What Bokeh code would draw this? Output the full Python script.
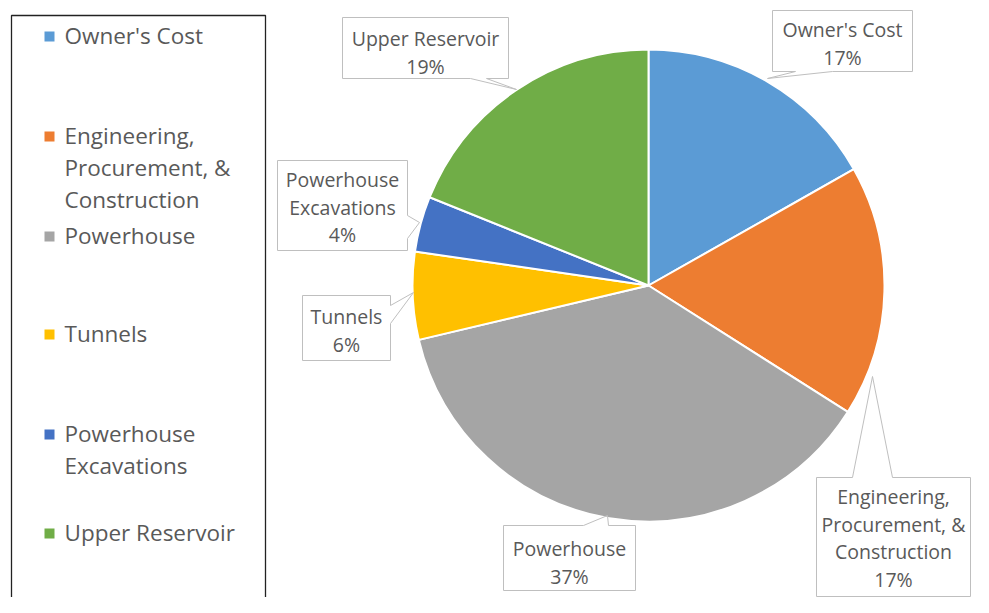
import math
from bokeh.plotting import figure
from bokeh.models import Range1d
from bokeh.core.properties import value
from bokeh.embed import file_html
from bokeh.resources import INLINE

# ---- data ----
categories = ["Owner's Cost", "Engineering, Procurement, & Construction", "Powerhouse",
              "Tunnels", "Powerhouse Excavations", "Upper Reservoir"]
shares = [16.8, 17.2, 37.3, 6.0, 3.8, 18.9]
colors = ["#5B9BD5", "#ED7D31", "#A5A5A5", "#FFC000", "#4472C4", "#70AD47"]
legend_labels = ["Owner's Cost", "Engineering,\nProcurement, &\nConstruction", "Powerhouse",
                 "Tunnels", "Powerhouse\nExcavations", "Upper Reservoir"]
callout_labels = ["Owner's Cost", "Engineering,\nProcurement, &\nConstruction", "Powerhouse",
                  "Tunnels", "Powerhouse\nExcavations", "Upper Reservoir"]

# ---- layout (picture pixel coordinates, y downwards) ----
W, H = 973, 597
def Y(py):
    return 613 - py

FONT = "Open Sans"
TXT = "#595959"
cx, cy, R = 648, 285, 236

p = figure(width=W, height=H, output_backend="svg", toolbar_location=None,
           x_range=Range1d(0, W), y_range=Range1d(613 - H, 613),
           x_axis_type=None, y_axis_type=None, min_border=0)
p.grid.visible = False
p.outline_line_color = None
p.background_fill_color = "white"

# pie
total = sum(shares)
starts, ends = [], []
cum = 0.0
for s in shares:
    a0 = math.pi / 2 - 2 * math.pi * (cum + s) / total
    a1 = math.pi / 2 - 2 * math.pi * cum / total
    starts.append(a0)
    ends.append(a1)
    cum += s
p.wedge(x=[cx] * len(shares), y=[Y(cy)] * len(shares), radius=R,
        start_angle=starts, end_angle=ends, fill_color=colors,
        line_color="white", line_width=2)

# legend box
p.quad(left=[11], right=[265], top=[Y(15)], bottom=[Y(640)],
       fill_color=None, line_color="#222222", line_width=1.3)

legend_y = [36, 136, 236, 334, 434, 533]
for lab, col, ly in zip(legend_labels, colors, legend_y):
    p.rect(x=[49], y=[Y(ly)], width=10, height=10, fill_color=col, line_color=None)
    for i, line in enumerate(lab.split("\n")):
        p.text(x=[64], y=[Y(ly - 1 + i * 32)], text=[line], text_font=value(FONT),
               text_font_size="22.5px", text_color=TXT, text_baseline="middle",
               text_align="left")

# callouts: box (l, r, t, b), pointer base (two points), apex, first text line y
callouts = [
    dict(box=(772, 912, 10, 71), base=((795, 71), (832, 71)), apex=(767, 78), ty=29),
    dict(box=(816, 970, 477, 596), base=((852, 477), (892, 477)), apex=(872, 376), ty=496),
    dict(box=(503, 635, 525, 590), base=((583, 525), (608, 525)), apex=(607, 515), ty=548),
    dict(box=(302, 390, 295, 360), base=((390, 305), (390, 323)), apex=(413, 292), ty=316),
    dict(box=(277, 407, 160, 250), base=((407, 215), (407, 238)), apex=(419, 222), ty=179),
    dict(box=(342, 508, 17, 78), base=((470, 78), (486, 78)), apex=(516, 89), ty=38),
]
for lab, s, c in zip(callout_labels, shares, callouts):
    l, r, t, b = c["box"]
    p.quad(left=[l], right=[r], top=[Y(t)], bottom=[Y(b)], fill_color="white",
           line_color="#BFBFBF", line_width=1)
    (x1, y1), (x2, y2) = c["base"]
    ax, ay = c["apex"]
    p.line(x=[x1, x2], y=[Y(y1), Y(y2)], line_color="white", line_width=2)
    p.line(x=[x1, ax, x2], y=[Y(y1), Y(ay), Y(y2)], line_color="#BFBFBF", line_width=1)
    lines = lab.split("\n") + ["%d%%" % round(100 * s / total)]
    mx = (l + r) / 2
    for i, line in enumerate(lines):
        p.text(x=[mx], y=[Y(c["ty"] + i * 27.5)], text=[line], text_font=value(FONT),
               text_font_size="19.5px", text_color=TXT, text_baseline="middle",
               text_align="center")

open("out.html", "w").write(file_html(p, INLINE))
